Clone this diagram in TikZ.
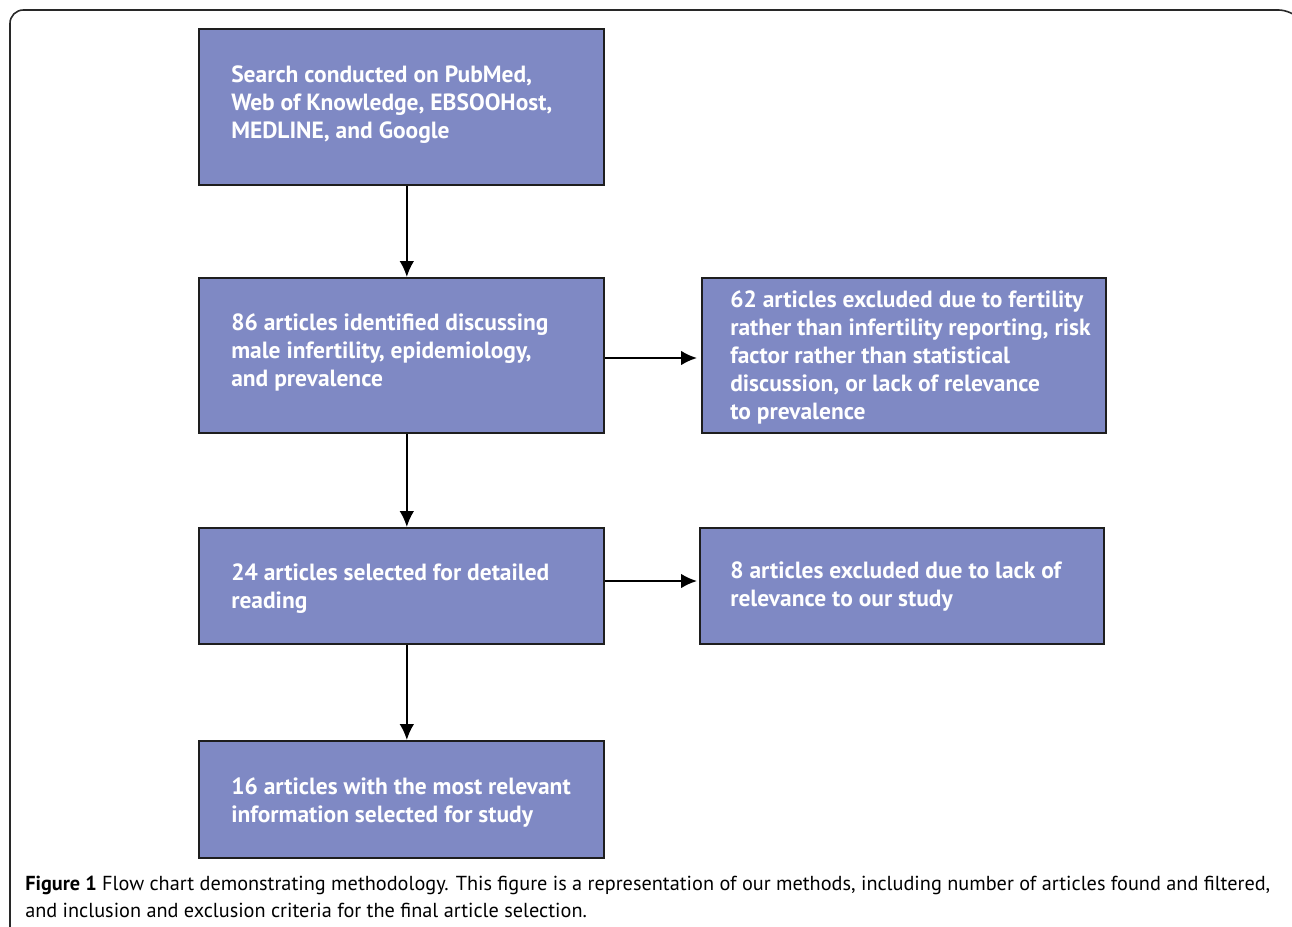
\documentclass[tikz,border=0pt]{standalone}
\usepackage{fontspec}
\setmainfont{PT Sans}
\newfontfamily\boxfont{PT Sans}[BoldFont={PT Sans Bold}]
\newfontfamily\capfont{PT Sans}
\usetikzlibrary{arrows.meta}
\definecolor{boxblue}{RGB}{127,137,196}
\definecolor{boxline}{RGB}{30,30,30}
\definecolor{framegray}{RGB}{40,40,40}
\tikzset{
  flowbox/.style={draw=boxline, line width=1.5pt, fill=boxblue, rectangle, inner sep=0pt, anchor=north west},
  boxtext/.style={anchor=base west, inner sep=0pt, align=left, text=white, font=\boxfont\bfseries\fontsize{17.6pt}{21pt}\selectfont},
  captext/.style={anchor=base west, inner sep=0pt, align=left, font=\capfont\fontsize{15.2pt}{20.25pt}\selectfont},
  flowarrow/.style={line width=1.5pt, -{Latex[length=12pt,width=11pt]}}
}
\begin{document}
\begin{tikzpicture}[x=0.75pt,y=-0.75pt]
\useasboundingbox (0,0) rectangle (1292,926);
\clip (0,0) rectangle (1292,926);
\draw[framegray, line width=1.2pt, rounded corners=10pt] (10,960) -- (10,10) -- (1292,10) -- (1310,30);
% boxes
\node[flowbox, minimum width=303.75pt, minimum height=117pt] (b1) at (198,28) {};
\node[flowbox, minimum width=303.75pt, minimum height=116.25pt] (b2) at (198,277) {};
\node[flowbox, minimum width=303pt, minimum height=116.25pt] (b3) at (701,277) {};
\node[flowbox, minimum width=303.75pt, minimum height=87pt] (b4) at (198,527) {};
\node[flowbox, minimum width=303pt, minimum height=87pt] (b5) at (699,527) {};
\node[flowbox, minimum width=303.75pt, minimum height=87.75pt] (b6) at (198,740) {};
% texts (anchored at baseline of last line)
\node[boxtext] (t1) at (231,138) {Search conducted on PubMed,\\Web of Knowledge, EBSOOHost,\\MEDLINE, and Google};
\node[boxtext] (t2) at (231,386) {86 articles identified discussing\\male infertility, epidemiology,\\and prevalence};
\node[boxtext] (t3) at (730,419) {62 articles excluded due to fertility\\rather than infertility reporting, risk\\factor rather than statistical\\discussion, or lack of relevance\\to prevalence};
\node[boxtext] (t4) at (231,608) {24 articles selected for detailed\\reading};
\node[boxtext] (t5) at (730,606) {8 articles excluded due to lack of\\relevance to our study};
\node[boxtext] (t6) at (231,822) {16 articles with the most relevant\\information selected for study};
% arrows
\draw[flowarrow] ([xshift=4pt]b1.south) -- ([xshift=4pt]b2.north);
\draw[flowarrow] ([xshift=4pt]b2.south) -- ([xshift=4pt]b4.north);
\draw[flowarrow] ([xshift=4pt]b4.south) -- ([xshift=4pt]b6.north);
\draw[flowarrow, shorten >=3pt] (b2.east |- 0,358) -- (b3.west |- 0,358);
\draw[flowarrow, shorten >=1.5pt] (b4.east |- 0,581) -- (b5.west |- 0,581);
% caption
\node[captext] (cap) at (25,917) {\textbf{Figure 1} Flow chart demonstrating methodology. This figure is a representation of our methods, including number of articles found and filtered,\\and inclusion and exclusion criteria for the final article selection.};
\end{tikzpicture}
\end{document}
